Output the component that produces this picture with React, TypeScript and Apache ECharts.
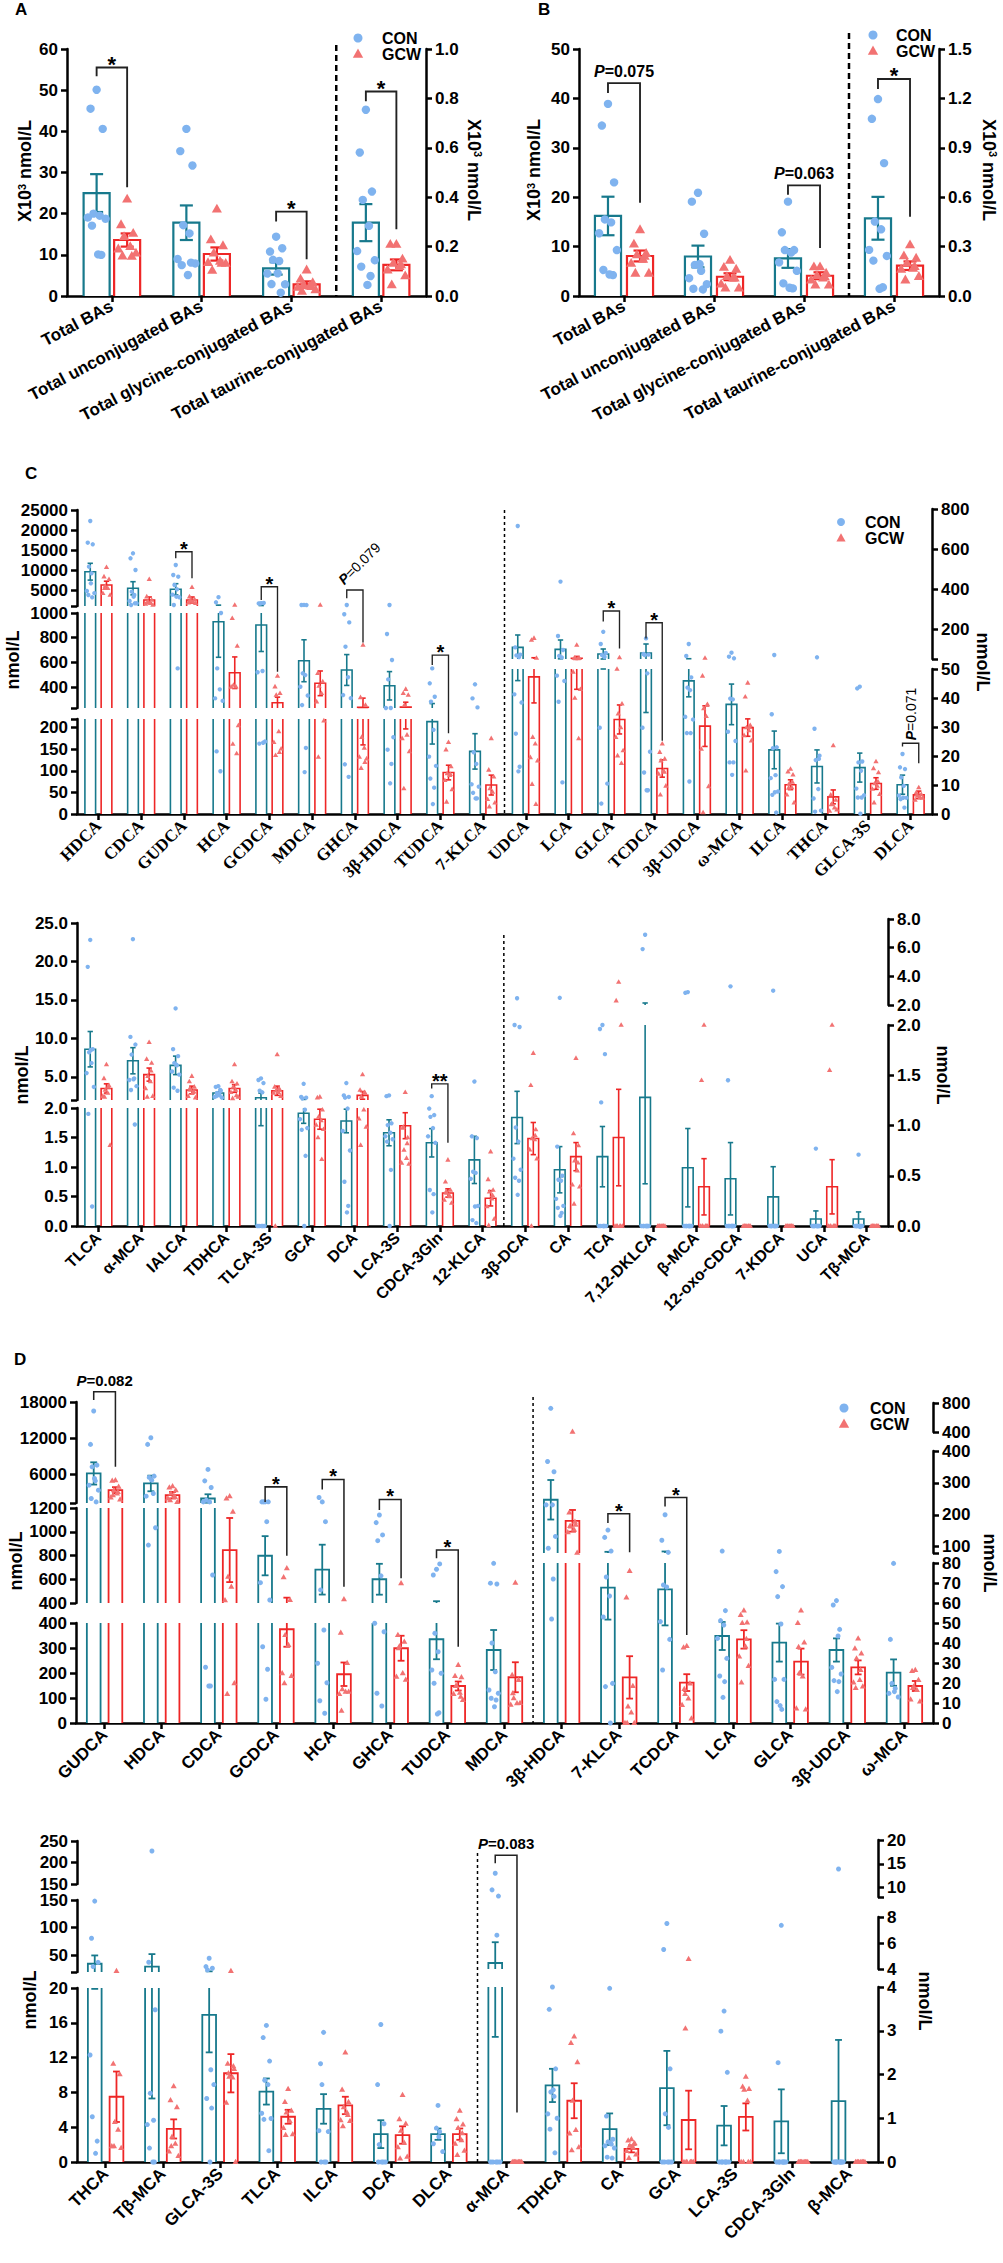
import React, { useEffect, useRef } from 'react';
import * as echarts from 'echarts';

// ===================== DATA =====================
// ---- Panel A ----
const A_CATEGORIES = ['Total BAs', 'Total unconjugated BAs', 'Total glycine-conjugated BAs', 'Total taurine-conjugated BAs'];
const A_CON_MEAN = [25.0, 17.8, 6.7, 0.297];
const A_CON_SEM = [4.6, 4.2, 1.5, 0.075];
const A_GCW_MEAN = [13.6, 10.2, 2.8, 0.126];
const A_GCW_SEM = [1.6, 1.6, 0.75, 0.022];
const A_CON_POINTS = [
  [50.1, 45.5, 40.6, 20.0, 19.5, 19.3, 19.0, 17.1, 10.0, 10.1],
  [40.6, 35.2, 31.7, 17.2, 15.2, 9.2, 7.9, 7.5, 8.1, 5.1],
  [14.4, 10.8, 11.6, 8.8, 8.5, 5.7, 3.1, 2.9, 0.8, 5.5],
  [0.754, 0.581, 0.423, 0.389, 0.284, 0.186, 0.149, 0.119, 0.081, 0.045],
];
const A_GCW_POINTS = [
  [23.5, 17.3, 15.2, 14.4, 12.0, 11.4, 10.4, 9.7, 9.6],
  [21.1, 13.6, 12.2, 10.4, 8.4, 8.1, 7.9, 6.2, 7.9],
  [6.3, 4.1, 3.2, 2.7, 2.4, 2.1, 1.5, 1.1, 2.3],
  [0.209, 0.209, 0.149, 0.132, 0.119, 0.105, 0.081, 0.045, 0.126],
];
const A_BRACKETS = [
  { cat: 0, top: 55.5, l: 53.4, r: 26.4, label: '*' },
  { cat: 2, top: 20.5, l: 18.1, r: 8.9, label: '*' },
  { cat: 3, top: 0.828, l: 0.788, r: 0.27, label: '*' },
];

// ---- Panel B ----
const B_CATEGORIES = A_CATEGORIES;
const B_CON_MEAN = [16.2, 8.0, 7.6, 0.472];
const B_CON_SEM = [3.9, 2.2, 1.9, 0.13];
const B_GCW_MEAN = [8.1, 3.9, 4.1, 0.184];
const B_GCW_SEM = [1.1, 0.7, 0.7, 0.026];
const B_CON_POINTS = [
  [38.9, 34.5, 23.0, 15.5, 14.9, 12.7, 9.3, 5.4, 4.5, 4.5],
  [20.9, 19.1, 12.6, 6.3, 5.1, 3.6, 2.4, 1.6, 1.6, 6.6],
  [19.1, 12.9, 9.3, 9.3, 8.8, 6.8, 5.1, 2.7, 1.8, 1.8],
  [1.196, 1.076, 0.807, 0.452, 0.405, 0.28, 0.243, 0.219, 0.061, 0.047],
];
const B_GCW_POINTS = [
  [13.4, 10.5, 8.6, 8.3, 7.4, 6.6, 4.6, 4.6, 8.0],
  [7.2, 5.8, 5.4, 3.9, 3.6, 2.4, 1.6, 1.6, 3.6],
  [5.9, 5.9, 4.6, 4.1, 3.6, 3.2, 2.2, 2.2, 3.9],
  [0.31, 0.243, 0.229, 0.199, 0.168, 0.162, 0.118, 0.097, 0.178],
];
const B_BRACKETS = [
  { cat: 0, top: 43.1, l: 41.1, r: 18.9, label: 'P=0.075' },
  { cat: 2, top: 22.4, l: 20.5, r: 9.7, label: 'P=0.063' },
  { cat: 3, top: 1.318, l: 1.257, r: 0.482, label: '*' },
];

// ---- Panel C (upper) ----
const C1_CATEGORIES = ['HDCA', 'CDCA', 'GUDCA', 'HCA', 'GCDCA', 'MDCA', 'GHCA', '3β-HDCA', 'TUDCA', '7-KLCA',
  'UDCA', 'LCA', 'GLCA', 'TCDCA', '3β-UDCA', 'ω-MCA', 'ILCA', 'THCA', 'GLCA-3S', 'DLCA'];
const C1_CON_MEAN = [9575, 5425, 5175, 929, 903, 613, 538, 410, 214, 145, 108, 98, 75, 80, 45.9, 37.8, 22.1, 16.4, 16, 10.1];
const C1_CON_SEM = [2100, 1650, 1400, 288, 215, 170, 125, 115, 52, 41, 62, 47, 25, 45, 5.5, 7, 6.5, 5.7, 5, 3.3];
const C1_GCW_MEAN = [6250, 2500, 2500, 516, 273, 430, 235, 237, 96, 67, 47.3, 53, 32.6, 15.7, 30.3, 29.8, 10.1, 5.9, 10.5, 6.6];
const C1_GCW_SEM = [950, 750, 750, 128, 45, 100, 75, 40, 17, 23, 9, 10, 5, 3, 7, 3, 1.7, 2.4, 2, 1.3];
const C1_CON_POINTS = [
  [22250, 16825, 16425, 10825, 9175, 5000, 4575, 3750, 3175, 6675],
  [14175, 12925, 10000, 4575, 3750, 2500, 1675, 1250, 1675, 3325],
  [11250, 8750, 8325, 6250, 5175, 4175, 3175, 1250, 551, 3325],
  [3200, 1925, 1000, 551, 381, 316, 300, 145, 99],
  [1700, 1650, 1750, 1600, 530, 520, 170, 163, 165],
  [1270, 1250, 1230, 511, 497, 402, 335, 254, 153, 97],
  [1250, 990, 924, 727, 479, 335, 321, 115, 86],
  [1250, 830, 619, 462, 230, 230, 180, 149, 116, 71],
  [551, 430, 321, 281, 195, 136, 113, 82, 61, 23],
  [422, 308, 235, 143, 116, 71, 65, 49, 36, 36],
  [715, 108, 72, 68, 60, 41.6, 38.7, 27.7, 16.3, 14.7],
  [437, 165, 95, 65, 58, 47.9, 46.2, 38.7, 10.9],
  [186, 125, 80, 70, 60, 30, 10.9, 3.6],
  [153, 75, 72, 70, 48.5, 30, 21.9, 14.3, 8.2, 8.2],
  [125, 65, 47.1, 43.6, 42.7, 33.7, 33.1, 27.9, 27.9, 11.2],
  [81.5, 61.5, 53.5, 39.8, 39.5, 28.6, 25.6, 17.8, 17.8, 13.5],
  [70, 34.4, 23, 22.7, 13.4, 12.6, 8, 6.6, 0.5, 7.5],
  [58.5, 29.4, 20.1, 18.6, 8.6, 5.7, 1.6, 0.8, 19],
  [43.9, 43.3, 18.1, 17.8, 14.9, 9.1, 7, 5.7, 5.7, 0.1],
  [20.7, 16.1, 15.5, 12.6, 9.7, 6.6, 5.9, 5.1, 2.2, 5.6],
];
const C1_GCW_POINTS = [
  [10675, 8325, 7675, 6000, 5425, 4175, 3750, 5425],
  [7675, 3325, 2500, 2075, 1675, 1500, 1250, 1825],
  [5675, 3325, 2675, 2325, 2075, 1825, 1675, 2325],
  [1250, 957, 732, 416, 402, 401, 205, 162, 140],
  [489, 403, 349, 335, 191, 166, 151, 136, 143],
  [1250, 511, 443, 408, 349, 281, 216, 132],
  [740, 316, 254, 178, 153, 132, 128, 106, 120],
  [383, 349, 335, 254, 183, 175, 145, 59],
  [166, 149, 110, 94, 90, 78, 57, 28, 92],
  [175, 102, 86, 59, 51, 34, 26, 17],
  [154, 145, 55, 26.5, 24.2, 19.5, 18.4, 10.3, 3.4],
  [120, 55, 54, 53, 52, 49, 43, 40, 26],
  [57, 50, 38, 34.6, 29.8, 26.5, 21.9, 20.1, 17.5],
  [24.2, 21.3, 19, 18.4, 14.9, 13.8, 9.7, 6.6, 14.5],
  [55, 47.6, 37.8, 36.4, 33.7, 22.4, 9.5, 0.5, 37.5],
  [45.2, 40.4, 30.6, 29.8, 28.8, 27.1, 25.3, 14.9, 30],
  [15.5, 14.6, 13.5, 10.5, 9.1, 6.6, 3.9, 9, 11],
  [23.6, 6.6, 4.8, 3.4, 2.2, 1, 1.5, 3.3],
  [18.1, 15.7, 14.3, 10.5, 9.7, 8.6, 6.8, 3.9, 11.2],
  [9.1, 7.4, 6.8, 6.2, 5.7, 4.8, 5.5, 6.6],
];
const C1_BRACKETS = [
  { cat: 2, top: 14575, l: 12925, r: 7925, label: '*' },
  { cat: 4, top: 5825, l: 2500, r: 524, label: '*' },
  { cat: 6, top: 5000, l: 2925, r: 760, label: 'P=0.079', rot: 45 },
  { cat: 8, top: 659, l: 578, r: 187, label: '*' },
  { cat: 12, top: 290, l: 237, r: 103, label: '*' },
  { cat: 13, top: 231, l: 153, r: 25.3, label: '*' },
  { cat: 19, top: 24.4, l: 23.3, r: 17.5, label: 'P=0.071', rot: 90 },
];

// ---- Panel C (lower) ----
const C2_CATEGORIES = ['TLCA', 'α-MCA', 'IALCA', 'TDHCA', 'TLCA-3S', 'GCA', 'DCA', 'LCA-3S', 'CDCA-3Gln', '12-KLCA',
  '3β-DCA', 'CA', 'TCA', '7,12-DKLCA', 'β-MCA', '12-oxo-CDCA', '7-KDCA', 'UCA', 'Tβ-MCA'];
const C2_CON_MEAN = [8.6, 7.1, 6.5, 2.9, 2.3, 1.91, 1.78, 1.58, 1.41, 1.12, 1.08, 0.56, 0.69, 1.28, 0.58, 0.47, 0.29, 0.07, 0.07];
const C2_CON_SEM = [2.3, 1.7, 1.2, 0.15, 0.6, 0.17, 0.2, 0.22, 0.24, 0.4, 0.26, 0.23, 0.3, 0.86, 0.39, 0.36, 0.3, 0.08, 0.07];
const C2_GCW_MEAN = [3.5, 5.3, 3.3, 3.5, 3.2, 1.81, 2.6, 1.7, 0.56, 0.47, 0.87, 0.69, 0.88, 0, 0.39, 0, 0, 0.39, 0];
const C2_GCW_SEM = [0.6, 0.85, 0.5, 0.5, 0.6, 0.17, 0.5, 0.22, 0.07, 0.13, 0.16, 0.14, 0.48, 0, 0.28, 0, 0, 0.27, 0];
const C2_CON_POINTS = [
  [22.8, 19.3, 8.6, 8.3, 6.8, 5.5, 3.7, 1.9, 0.33, 8.5],
  [22.9, 10.2, 9.2, 7.9, 4.8, 4.6, 3.8, 3.3, 1.72, 4.7],
  [13.9, 8.6, 7.7, 6.8, 6.5, 5.7, 5.3, 3.6, 3.2, 6.6],
  [3.8, 3.7, 3.2, 2.9, 2.6, 2.4, 2.3, 2.5, 3.3, 2.8],
  [4.8, 4.6, 4.2, 3.2, 3.0, 0, 0, 0, 0, 0],
  [4.1, 2.4, 2.3, 2.2, 1.97, 1.81, 1.66, 1.63, 1.19, 0],
  [4.2, 2.6, 2.4, 2.3, 1.99, 1.61, 1.28, 0.75, 0.34, 0.23],
  [2.6, 2.5, 1.74, 1.71, 1.58, 1.52, 1.47, 1.43, 0.95, 0],
  [2.5, 1.99, 1.88, 1.85, 1.66, 1.52, 1.41, 0.61, 0.54, 0.23],
  [4.4, 1.52, 1.49, 0.92, 0.9, 0.8, 0.34, 0.1, 0.05, 0.33],
  [2.47, 2.0, 1.98, 0.98, 0.84, 0.67, 0.56, 0.48, 0.45, 0.31],
  [2.5, 0.79, 0.5, 0.46, 0.45, 0.27, 0.2, 0.18, 0.13, 0.1],
  [2.0, 1.96, 1.71, 1.23, 0, 0, 0, 0, 0, 0],
  [6.9, 5.9, 0, 0, 0, 0, 0, 0, 0, 0],
  [2.9, 2.85, 0, 0, 0, 0, 0, 0, 0, 0],
  [3.3, 1.45, 0, 0, 0, 0, 0, 0, 0, 0],
  [3.0, 0, 0, 0, 0, 0, 0, 0, 0, 0],
  [0.77, 0, 0, 0, 0, 0, 0, 0, 0, 0],
  [0.71, 0, 0, 0, 0, 0, 0, 0, 0, 0],
];
const C2_GCW_POINTS = [
  [6.6, 4.8, 3.9, 3.3, 2.9, 2.5, 1.37, 2.4, 3.7],
  [9.5, 7.3, 6.8, 5.1, 4.4, 3.5, 2.5, 2.4, 5.8],
  [5.1, 4.4, 3.7, 3.3, 3.0, 2.5, 2.3, 3.5, 3.1],
  [6.6, 4.4, 4.1, 3.7, 3.3, 3.0, 2.4, 2.2, 2.6],
  [7.9, 3.7, 3.3, 3.2, 3.0, 2.9, 2.5, 0, 3.5],
  [2.4, 2.3, 1.97, 1.85, 1.79, 1.71, 1.64, 1.5, 1.13],
  [5.3, 3.3, 2.9, 2.4, 1.97, 1.82, 1.68, 1.37, 3.0],
  [3.0, 1.66, 1.5, 1.29, 1.15, 1.07, 1.05, 1.68, 1.4],
  [1.12, 0.75, 0.61, 0.56, 0.52, 0.44, 0.39, 0.58, 0.5],
  [1.26, 0.79, 0.61, 0.58, 0.46, 0.33, 0.12, 0.01, 0.52],
  [1.72, 1.4, 0.96, 0.87, 0.86, 0.76, 0.67, 0, 0.9],
  [1.67, 0.92, 0.8, 0.65, 0.55, 0.41, 0.39, 0.22, 0.63],
  [3.6, 2.3, 2.0, 0, 0, 0, 0, 0, 0],
  [0, 0, 0, 0, 0, 0, 0, 0, 0],
  [2.0, 1.45, 0, 0, 0, 0, 0, 0, 0],
  [0, 0, 0, 0, 0, 0, 0, 0, 0],
  [0, 0, 0, 0, 0, 0, 0, 0, 0],
  [2.0, 1.55, 0, 0, 0, 0, 0, 0, 0],
  [0, 0, 0, 0, 0, 0, 0, 0, 0],
];
const C2_BRACKETS = [
  { cat: 8, top: 4.1, l: 3.5, r: 1.41, label: '**' },
];

// ---- Panel D (upper) ----
const D1_CATEGORIES = ['GUDCA', 'HDCA', 'CDCA', 'GCDCA', 'HCA', 'GHCA', 'TUDCA', 'MDCA',
  '3β-HDCA', '7-KLCA', 'TCDCA', 'LCA', 'GLCA', '3β-UDCA', 'ω-MCA'];
const D1_CON_MEAN = [6117, 4450, 1950, 798, 681, 600, 335, 292, 247, 67.7, 66.8, 43.5, 40.2, 36.5, 25.2];
const D1_CON_SEM = [1850, 1300, 700, 165, 210, 130, 80, 80, 62, 16, 18, 7, 9.5, 5.8, 6.6];
const D1_GCW_MEAN = [3333, 2500, 846, 375, 195, 299, 148, 183, 181, 22.8, 20.2, 41.8, 30.7, 27.8, 18.5];
const D1_GCW_SEM = [500, 550, 270, 70, 47, 50, 18, 60, 34, 10.6, 4.2, 4.6, 6.5, 3.5, 2.5];
const D1_CON_POINTS = [
  [16500, 10950, 7500, 7217, 4883, 4167, 3333, 1950, 1383, 5283],
  [12050, 10950, 5667, 5450, 3450, 2333, 1034, 888, 2783, 5000],
  [6783, 4883, 3783, 1667, 1383, 1383, 636, 223, 148, 148],
  [1383, 1383, 1400, 1383, 1085, 571, 425, 305, 215, 95],
  [1383, 2117, 1085, 510, 372, 239, 161, 89, 39],
  [1141, 1077, 973, 925, 629, 399, 365, 119, 68],
  [684, 636, 729, 359, 285, 212, 199, 159, 41, 36],
  [734, 567, 560, 320, 205, 132, 119, 99, 92, 65],
  [727, 367, 335, 244, 231, 231, 132, 95, 72, 52],
  [152, 129, 86, 73, 63.5, 53, 19.8, 18.2, 0],
  [200, 120, 82, 69, 68, 50.7, 41.8, 26.5, 10.2, 5.2],
  [86, 65.2, 56.2, 51.2, 49, 42.3, 32.3, 23.5, 20.7, 12.8],
  [85, 75.7, 68.2, 63.2, 49.5, 21.8, 21.8, 10.7, 6.8, 8.7],
  [61.2, 59, 46.8, 45.2, 43.5, 27.8, 24.5, 21.2, 20.7, 15.7],
  [79.8, 41.8, 25.2, 19.8, 17.3, 14.8, 13, 10.2, 10.2, 15.7],
];
const D1_GCW_POINTS = [
  [5000, 4883, 3883, 3333, 2783, 2117, 1783, 2500, 3050],
  [4000, 3783, 3333, 2783, 2333, 1950, 1383, 1667, 2217],
  [2333, 1950, 1169, 621, 537, 424, 159, 116],
  [692, 617, 425, 352, 312, 199, 188, 159],
  [432, 361, 240, 135, 125, 116, 125, 49],
  [567, 352, 325, 307, 199, 185, 173, 299],
  [232, 188, 183, 148, 121, 116, 92, 148, 105],
  [571, 192, 172, 99, 79, 73, 80, 119],
  [404, 207, 169, 163, 153, 145, 81, 165, 178],
  [76, 62.7, 18.5, 8.2, 5.2, 0, 0, 0],
  [38.5, 37.7, 19.8, 14.5, 12.3, 9, 2.3, 17],
  [56.2, 54, 50.2, 50, 38.2, 33.2, 28.5, 20.2, 42],
  [56.2, 50, 40.2, 25, 23.3, 7.3, 6.8, 38],
  [42.3, 37.3, 34.8, 32.3, 21.5, 20.2, 18.2, 17.5, 26.5],
  [26.5, 26, 21.5, 18.2, 16.5, 11.8, 10.7, 17.5],
];
const D1_BRACKETS = [
  { cat: 0, top: 19700, l: 18333, r: 7217, label: 'P=0.082' },
  { cat: 3, top: 3883, l: 1383, r: 798, label: '*' },
  { cat: 4, top: 5117, l: 3450, r: 537, label: '*' },
  { cat: 5, top: 1783, l: 1183, r: 608, label: '*' },
  { cat: 6, top: 846, l: 776, r: 305, label: '*' },
  { cat: 9, top: 203, l: 174, r: 82, label: '*' },
  { cat: 10, top: 254, l: 226, r: 44, label: '*' },
];

// ---- Panel D (lower) ----
const D2_CATEGORIES = ['THCA', 'Tβ-MCA', 'GLCA-3S', 'TLCA', 'ILCA', 'DCA', 'DLCA',
  'α-MCA', 'TDHCA', 'CA', 'GCA', 'LCA-3S', 'CDCA-3Gln', 'β-MCA'];
const D2_CON_MEAN = [34.9, 29.8, 16.9, 8.1, 6.1, 3.2, 3.2, 4.46, 1.75, 0.75, 1.69, 0.83, 0.93, 1.39];
const D2_CON_SEM = [15, 22.5, 4.3, 1.5, 1.7, 1.6, 0.65, 1.6, 0.38, 0.36, 0.85, 0.45, 0.73, 1.4];
const D2_GCW_MEAN = [7.5, 3.8, 10.2, 5.2, 6.5, 3.1, 3.2, 0, 1.4, 0.3, 0.96, 1.03, 0, 0];
const D2_GCW_SEM = [2.9, 1.1, 2.2, 0.8, 1.0, 1.0, 0.65, 0, 0.4, 0.08, 0.67, 0.31, 0, 0];
const D2_CON_POINTS = [
  [148, 80.9, 38.8, 29.8, 13, 12.3, 10.1, 5.2, 2.4, 1],
  [226.7, 37.6, 17.5, 7.9, 4.8, 4.3, 2.8, 1.6, 0, 0],
  [44.8, 29.8, 26.7, 23.7, 10.6, 10.7, 8.9, 7.3, 6.2, 0],
  [15.7, 14.3, 11.6, 9.4, 8.9, 5.6, 5, 4.9, 1.3, 5.3],
  [14.9, 11.4, 10.9, 8.9, 8.2, 3.6, 3.5, 0, 0, 0],
  [15.8, 8.9, 4.4, 2, 0.9, 0.5, 0, 0, 0, 0],
  [6.5, 5.7, 5.3, 3.9, 3.5, 2.1, 1.2, 0.7, 0.5, 2.9],
  [13, 9.5, 8.2, 6.8, 6.6, 0, 0, 0, 0, 0],
  [4.0, 3.49, 2.13, 1.6, 1.5, 1.1, 1.0, 0.75, 0.21, 1.65],
  [3.97, 1.05, 0.52, 0.46, 0.41, 0.37, 0.32, 0.11, 0.09, 0.43],
  [7.5, 5.5, 2.13, 1.1, 0.79, 0, 0, 0, 0, 0],
  [3.45, 2.99, 2.05, 0, 0, 0, 0, 0, 0, 0],
  [7.36, 2.27, 0, 0, 0, 0, 0, 0, 0, 0],
  [13.9, 0, 0, 0, 0, 0, 0, 0, 0, 0],
];
const D2_GCW_POINTS = [
  [22, 11.3, 10.1, 4.6, 3.7, 1.8, 1.6, 1.8],
  [8.7, 7.1, 6.3, 2.9, 2.1, 1.2, 0.7, 1.8],
  [21.6, 11.3, 10.7, 9.8, 9.7, 6.8, 0, 10.2, 11],
  [8.4, 6.9, 5.9, 5.7, 4.7, 3.9, 3.2, 3.1],
  [12.6, 8.3, 6.9, 6.3, 5.7, 4.8, 4.7, 4.1, 5.4],
  [7.7, 4.9, 4.4, 3.6, 2.2, 1.7, 0.6, 0.4],
  [5.9, 4.9, 4.3, 3.9, 2.5, 2.1, 1.3, 0.8, 3.3],
  [0, 0, 0, 0, 0, 0, 0, 0, 0],
  [2.87, 2.72, 2.28, 1.4, 0.73, 0.65, 0.34, 0.27],
  [0.52, 0.49, 0.43, 0.37, 0.33, 0.25, 0.17, 0.09, 0.41],
  [4.77, 3.05, 0, 0, 0, 0, 0, 0, 0],
  [1.95, 1.72, 1.67, 1.65, 1.4, 0, 0, 0, 0],
  [0, 0, 0, 0, 0, 0, 0, 0, 0],
  [0, 0, 0, 0, 0, 0, 0, 0, 0],
];
const D2_BRACKETS = [
  { cat: 7, top: 16.8, l: 15.1, r: 1.13, label: 'P=0.083' },
];

const LEGEND_NAMES = ['CON', 'GCW'];

// ===================== STYLE / LAYOUT =====================
const SANS = '"Liberation Sans", Arial, sans-serif';
const SERIF = '"Liberation Serif", "Times New Roman", serif';
const CON_LINE = '#17798C';
const GCW_LINE = '#EE2626';
const CON_PT = '#7FB3EF';
const GCW_PT = '#F27272';
const JIT = [0, -0.55, 0.55, -0.28, 0.28, -0.8, 0.8, -0.42, 0.42, 0.14, -0.14, 0.68];

const PANELS: any[] = [
  {
    cats: A_CATEGORIES, nLeft: 3, conMean: A_CON_MEAN, conSem: A_CON_SEM, gcwMean: A_GCW_MEAN, gcwSem: A_GCW_SEM,
    conPts: A_CON_POINTS, gcwPts: A_GCW_POINTS, brackets: A_BRACKETS,
    x0: 67, x1: 426,
    leftSegs: [{ min: 0, max: 60, top: 49, bottom: 296, labels: [0, 10, 20, 30, 40, 50, 60], dec: 0 }],
    rightSegs: [{ min: 0, max: 1, top: 49, bottom: 296, labels: [0, 0.2, 0.4, 0.6, 0.8, 1.0], dec: 1 }],
    off: 0.17, bw: 0.29, r: 4.2, lw: 2.2, rot: 28, xFont: SANS, xSize: 17, ySize: 17,
    dividerTop: 45, dashW: 2.5, dash: [6, 4], starSize: 22, pSize: 16,
    legend: { x: 358, y: 38, tx: 382, r: 4.5 }, letter: { t: 'A', x: 15, y: 9 },
    names: [{ t: 'X10{sup|3} nmol/L', x: 25, y: 171, rot: 90 }, { t: 'X10{sup|3} nmol/L', x: 474, y: 170, rot: -90 }],
  },
  {
    cats: B_CATEGORIES, nLeft: 3, conMean: B_CON_MEAN, conSem: B_CON_SEM, gcwMean: B_GCW_MEAN, gcwSem: B_GCW_SEM,
    conPts: B_CON_POINTS, gcwPts: B_GCW_POINTS, brackets: B_BRACKETS,
    x0: 579, x1: 939,
    leftSegs: [{ min: 0, max: 50, top: 49, bottom: 296, labels: [0, 10, 20, 30, 40, 50], dec: 0 }],
    rightSegs: [{ min: 0, max: 1.5, top: 49, bottom: 296, labels: [0, 0.3, 0.6, 0.9, 1.2, 1.5], dec: 1 }],
    off: 0.178, bw: 0.29, r: 4.2, lw: 2.2, rot: 28, xFont: SANS, xSize: 17, ySize: 17,
    dividerTop: 33, dashW: 2.5, dash: [6, 4], starSize: 22, pSize: 16,
    legend: { x: 873, y: 35, tx: 896, r: 4.5 }, letter: { t: 'B', x: 538, y: 9 },
    names: [{ t: 'X10{sup|3} nmol/L', x: 534, y: 170, rot: 90 }, { t: 'X10{sup|3} nmol/L', x: 989, y: 170, rot: -90 }],
  },
  {
    cats: C1_CATEGORIES, nLeft: 10, conMean: C1_CON_MEAN, conSem: C1_CON_SEM, gcwMean: C1_GCW_MEAN, gcwSem: C1_GCW_SEM,
    conPts: C1_CON_POINTS, gcwPts: C1_GCW_POINTS, brackets: C1_BRACKETS,
    x0: 77, x1: 932,
    leftSegs: [
      { min: 0, max: 220, top: 719, bottom: 814, labels: [0, 50, 100, 150, 200], dec: 0 },
      { min: 230, max: 1000, top: 613, bottom: 708, labels: [400, 600, 800, 1000], dec: 0 },
      { min: 1000, max: 25000, top: 510, bottom: 606, labels: [5000, 10000, 15000, 20000, 25000], dec: 0 },
    ],
    rightSegs: [
      { min: 0, max: 50, top: 669, bottom: 814, labels: [0, 10, 20, 30, 40, 50], dec: 0 },
      { min: 50, max: 800, top: 509, bottom: 659, labels: [200, 400, 600, 800], dec: 0 },
    ],
    off: 0.19, bw: 0.25, r: 2.2, lw: 1.6, rot: 45, xFont: SERIF, xSize: 17, ySize: 17,
    dividerTop: 510, dashW: 1.5, dash: [3, 3], starSize: 20, pSize: 14,
    legend: { x: 841, y: 522, tx: 865, r: 4 }, letter: { t: 'C', x: 25, y: 473 },
    names: [{ t: 'nmol/L', x: 13, y: 660, rot: 90 }, { t: 'nmol/L', x: 983, y: 662, rot: -90 }],
  },
  {
    cats: C2_CATEGORIES, nLeft: 10, conMean: C2_CON_MEAN, conSem: C2_CON_SEM, gcwMean: C2_GCW_MEAN, gcwSem: C2_GCW_SEM,
    conPts: C2_CON_POINTS, gcwPts: C2_GCW_POINTS, brackets: C2_BRACKETS,
    x0: 77, x1: 888,
    leftSegs: [
      { min: 0, max: 2, top: 1108, bottom: 1226, labels: [0, 0.5, 1, 1.5, 2], dec: 1 },
      { min: 2, max: 25, top: 923, bottom: 1100, labels: [5, 10, 15, 20, 25], dec: 1 },
    ],
    rightSegs: [
      { min: 0, max: 2, top: 1025, bottom: 1226, labels: [0, 0.5, 1, 1.5, 2], dec: 1 },
      { min: 2, max: 8, top: 919, bottom: 1005, labels: [2, 4, 6, 8], dec: 1 },
    ],
    off: 0.19, bw: 0.25, r: 2.2, lw: 1.6, rot: 45, xFont: SANS, xSize: 16, ySize: 17,
    dividerTop: 935, dashW: 1.5, dash: [3, 3], starSize: 20, pSize: 14,
    legend: null, letter: null,
    names: [{ t: 'nmol/L', x: 22, y: 1075, rot: 90 }, { t: 'nmol/L', x: 943, y: 1075, rot: -90 }],
  },
  {
    cats: D1_CATEGORIES, nLeft: 8, conMean: D1_CON_MEAN, conSem: D1_CON_SEM, gcwMean: D1_GCW_MEAN, gcwSem: D1_GCW_SEM,
    conPts: D1_CON_POINTS, gcwPts: D1_GCW_POINTS, brackets: D1_BRACKETS,
    x0: 76, x1: 933,
    leftSegs: [
      { min: 0, max: 400, top: 1623, bottom: 1723, labels: [0, 100, 200, 300, 400], dec: 0 },
      { min: 400, max: 1200, top: 1508, bottom: 1603, labels: [400, 600, 800, 1000, 1200], dec: 0 },
      { min: 1200, max: 18000, top: 1402, bottom: 1503, labels: [6000, 12000, 18000], dec: 0 },
    ],
    rightSegs: [
      { min: 0, max: 80, top: 1563, bottom: 1723, labels: [0, 10, 20, 30, 40, 50, 60, 70, 80], dec: 0 },
      { min: 80, max: 400, top: 1451, bottom: 1553, labels: [100, 200, 300, 400], dec: 0 },
      { min: 400, max: 800, top: 1403, bottom: 1432, labels: [400, 800], dec: 0 },
    ],
    off: 0.19, bw: 0.24, r: 2.5, lw: 1.8, rot: 45, xFont: SANS, xSize: 17, ySize: 17,
    dividerTop: 1397, dashW: 1.5, dash: [3, 3], starSize: 20, pSize: 15,
    legend: { x: 844, y: 1408, tx: 870, r: 4.5 }, letter: { t: 'D', x: 14, y: 1359 },
    names: [{ t: 'nmol/L', x: 16, y: 1561, rot: 90 }, { t: 'nmol/L', x: 990, y: 1563, rot: -90 }],
  },
  {
    cats: D2_CATEGORIES, nLeft: 7, conMean: D2_CON_MEAN, conSem: D2_CON_SEM, gcwMean: D2_GCW_MEAN, gcwSem: D2_GCW_SEM,
    conPts: D2_CON_POINTS, gcwPts: D2_GCW_POINTS, brackets: D2_BRACKETS,
    x0: 77, x1: 878,
    leftSegs: [
      { min: 0, max: 20, top: 1988, bottom: 2162, labels: [0, 4, 8, 12, 16, 20], dec: 0 },
      { min: 20, max: 150, top: 1900, bottom: 1972, labels: [50, 100, 150], dec: 0 },
      { min: 150, max: 250, top: 1841, bottom: 1884, labels: [150, 200, 250], dec: 0 },
    ],
    rightSegs: [
      { min: 0, max: 4, top: 1987, bottom: 2162, labels: [0, 1, 2, 3, 4], dec: 0 },
      { min: 4, max: 8, top: 1917, bottom: 1969, labels: [4, 6, 8], dec: 0 },
      { min: 8, max: 20, top: 1840, bottom: 1897, labels: [10, 15, 20], dec: 0 },
    ],
    off: 0.19, bw: 0.24, r: 2.5, lw: 1.8, rot: 45, xFont: SANS, xSize: 17, ySize: 17,
    dividerTop: 1853, dashW: 1.5, dash: [3, 3], starSize: 20, pSize: 15,
    legend: null, letter: null,
    names: [{ t: 'nmol/L', x: 30, y: 2000, rot: 90 }, { t: 'nmol/L', x: 925, y: 2001, rot: -90 }],
  },
];

// ===================== HELPERS =====================
function segIndexFor(segs: any[], v: number) {
  for (let i = 0; i < segs.length; i++) if (v >= segs[i].min && v <= segs[i].max) return i;
  if (v > segs[segs.length - 1].max) return segs.length - 1;
  let best = 0, bd = Infinity;
  segs.forEach((s: any, i: number) => {
    const d = v < s.min ? s.min - v : v - s.max;
    if (d < bd) { bd = d; best = i; }
  });
  return best;
}

function fmt(v: number, dec: number) {
  return dec > 0 ? Number(v).toFixed(dec) : String(Math.round(v));
}

function barsRender(p: any) {
  return (params: any, api: any) => {
    const cat = api.value(0), mean = api.value(1), sem = api.value(2), g = api.value(3);
    const cs = params.coordSys;
    const top = cs.y, bot = cs.y + cs.height;
    const band = api.size([1, 0])[0];
    const cx = api.coord([cat, 0])[0] + (g === 0 ? -1 : 1) * band * p.off;
    const hw = (band * p.bw) / 2;
    const color = g === 0 ? CON_LINE : GCW_LINE;
    const st = { stroke: color, lineWidth: p.lw, fill: null };
    const clampY = (y: number) => Math.max(top, Math.min(bot, y));
    const ch: any[] = [];
    const ym = api.coord([cat, mean])[1];
    if (mean > 0 && ym < bot - 0.5) {
      const yt = clampY(ym);
      ch.push({ type: 'rect', shape: { x: cx - hw, y: yt, width: 2 * hw, height: bot - yt }, style: { fill: '#ffffff' } });
      if (ym >= top) {
        ch.push({ type: 'polyline', shape: { points: [[cx - hw, bot], [cx - hw, yt], [cx + hw, yt], [cx + hw, bot]] }, style: st });
      } else {
        ch.push({ type: 'line', shape: { x1: cx - hw, y1: bot, x2: cx - hw, y2: top }, style: st });
        ch.push({ type: 'line', shape: { x1: cx + hw, y1: bot, x2: cx + hw, y2: top }, style: st });
      }
    }
    if (sem > 0) {
      const yh = api.coord([cat, mean + sem])[1];
      const lowV = Math.max(0, mean - sem);
      const yl = api.coord([cat, lowV])[1];
      const a = clampY(yh), b = clampY(yl);
      if (b - a > 0.5) ch.push({ type: 'line', shape: { x1: cx, y1: a, x2: cx, y2: b }, style: st });
      const cw = hw * 0.5;
      if (yh >= top && yh <= bot) ch.push({ type: 'line', shape: { x1: cx - cw, y1: yh, x2: cx + cw, y2: yh }, style: st });
      if (mean - sem > 0 && yl >= top && yl <= bot) ch.push({ type: 'line', shape: { x1: cx - cw, y1: yl, x2: cx + cw, y2: yl }, style: st });
    }
    return { type: 'group', children: ch };
  };
}

function ptsRender(p: any, g: number) {
  return (params: any, api: any) => {
    const cat = api.value(0), v = api.value(1), j = api.value(2);
    const band = api.size([1, 0])[0];
    const cx = api.coord([cat, 0])[0] + (g === 0 ? -1 : 1) * band * p.off + JIT[j % JIT.length] * band * p.bw * 0.5 * 0.85;
    const y = api.coord([cat, v])[1];
    const r = p.r;
    if (g === 0) return { type: 'circle', shape: { cx, cy: y, r }, style: { fill: CON_PT } };
    return {
      type: 'polygon',
      shape: { points: [[cx, y - r * 1.3], [cx - r * 1.2, y + r * 0.8], [cx + r * 1.2, y + r * 0.8]] },
      style: { fill: GCW_PT },
    };
  };
}

function buildOption(panels: any[]) {
  const grid: any[] = [], xAxis: any[] = [], yAxis: any[] = [], series: any[] = [];
  const refs: any[] = [];
  const axisLineStyle = { color: '#000', width: 2.5 };
  panels.forEach((p) => {
    const r: any = { left: [], right: [] };
    (['left', 'right'] as const).forEach((side) => {
      const segs = side === 'left' ? p.leftSegs : p.rightSegs;
      const catIdx = p.cats.map((_: any, i: number) => i).filter((i: number) => (side === 'left' ? i < p.nLeft : i >= p.nLeft));
      segs.forEach((s: any, si: number) => {
        const ai = grid.length;
        r[side].push(ai);
        grid.push({ left: p.x0, top: s.top, width: p.x1 - p.x0, height: s.bottom - s.top });
        const showX = side === 'left' && si === 0;
        xAxis.push({
          type: 'category', gridIndex: ai, data: p.cats, show: showX, boundaryGap: true,
          axisLine: { show: true, onZero: false, lineStyle: axisLineStyle },
          axisTick: { show: true, alignWithLabel: true, length: 6, lineStyle: axisLineStyle },
          axisLabel: { interval: 0, rotate: p.rot, fontFamily: p.xFont, fontWeight: 'bold', fontSize: p.xSize, color: '#000', margin: 9 },
          splitLine: { show: false },
        });
        const tickVals = Array.from(new Set([s.min, ...s.labels, s.max]));
        yAxis.push({
          type: 'value', gridIndex: ai, min: s.min, max: s.max, position: side,
          axisLine: { show: true, onZero: false, lineStyle: axisLineStyle },
          axisTick: { show: true, length: 6, lineStyle: axisLineStyle, customValues: tickVals },
          axisLabel: {
            show: true, customValues: s.labels, formatter: (v: number) => fmt(v, s.dec),
            fontFamily: SANS, fontWeight: 'bold', fontSize: p.ySize, color: '#000', margin: 9,
          },
          splitLine: { show: false },
        });
        const barData: any[] = [];
        catIdx.forEach((c: number) => {
          barData.push([c, p.conMean[c], p.conSem[c], 0]);
          barData.push([c, p.gcwMean[c], p.gcwSem[c], 1]);
        });
        series.push({
          type: 'custom', name: 'bars', xAxisIndex: ai, yAxisIndex: ai, data: barData,
          renderItem: barsRender(p), z: 2, silent: true, clip: false,
        });
        [0, 1].forEach((g) => {
          const pts = g === 0 ? p.conPts : p.gcwPts;
          const d: any[] = [];
          catIdx.forEach((c: number) => {
            pts[c].forEach((v: number, j: number) => {
              if (segIndexFor(segs, v) === si) d.push([c, Math.min(s.max, Math.max(s.min, v)), j]);
            });
          });
          series.push({
            type: 'custom', name: LEGEND_NAMES[g], xAxisIndex: ai, yAxisIndex: ai, data: d,
            renderItem: ptsRender(p, g), z: 3, silent: true, clip: false,
            itemStyle: { color: g === 0 ? CON_PT : GCW_PT },
          });
        });
      });
    });
    refs.push(r);
  });
  return {
    option: { animation: false, textStyle: { fontFamily: SANS }, grid, xAxis, yAxis, series },
    refs,
  };
}

function buildGraphics(chart: any, panels: any[], refs: any[]) {
  const els: any[] = [];
  panels.forEach((p, pi) => {
    const r = refs[pi];
    const px = (cat: number, v: number) => {
      const side = cat < p.nLeft ? 'left' : 'right';
      const segs = side === 'left' ? p.leftSegs : p.rightSegs;
      const si = segIndexFor(segs, v);
      const ai = r[side][si];
      return chart.convertToPixel({ xAxisIndex: ai, yAxisIndex: ai }, [cat, v]);
    };
    const band = px(1, 0)[0] - px(0, 0)[0];
    // divider
    const xd = (px(p.nLeft - 1, 0)[0] + px(p.nLeft, 0)[0]) / 2;
    const yb = px(0, 0)[1];
    els.push({ type: 'line', z: 50, shape: { x1: xd, y1: p.dividerTop, x2: xd, y2: yb }, style: { stroke: '#000', lineWidth: p.dashW, lineDash: p.dash } });
    // brackets
    p.brackets.forEach((b: any) => {
      const cx = px(b.cat, 0)[0];
      const xl = cx - band * p.off, xr = cx + band * p.off;
      const yt = px(b.cat, b.top)[1], yl = px(b.cat, b.l)[1], yr = px(b.cat, b.r)[1];
      els.push({ type: 'polyline', z: 50, shape: { points: [[xl, yl], [xl, yt], [xr, yt], [xr, yr]] }, style: { stroke: '#222', lineWidth: p.lw * 0.85, fill: null } });
      const isP = b.label.charAt(0) === 'P';
      const txt = isP ? '{i|P}' + b.label.slice(1) : b.label;
      const size = isP ? p.pSize : p.starSize;
      const style: any = {
        text: txt, fill: '#000', fontFamily: SANS, fontWeight: 'bold', fontSize: size,
        rich: { i: { fontStyle: 'italic', fontWeight: 'bold', fontFamily: SANS, fontSize: size, fill: '#000' } },
      };
      if (b.rot === 45) {
        els.push({ type: 'text', z: 51, x: xl - 1, y: yt - 3, rotation: Math.PI / 4, style: { ...style, align: 'left', verticalAlign: 'bottom', fontWeight: 'normal' } });
      } else if (b.rot === 90) {
        els.push({ type: 'text', z: 51, x: (xl + xr) / 2, y: yt - 3, rotation: Math.PI / 2, style: { ...style, align: 'left', verticalAlign: 'middle', fontWeight: 'normal' } });
      } else if (isP) {
        els.push({ type: 'text', z: 51, x: (xl + xr) / 2, y: yt - 4, style: { ...style, align: 'center', verticalAlign: 'bottom' } });
      } else {
        els.push({ type: 'text', z: 51, x: (xl + xr) / 2, y: yt - 3, style: { ...style, align: 'center', verticalAlign: 'middle' } });
      }
    });
    // legend
    if (p.legend) {
      const L = p.legend;
      els.push({ type: 'circle', z: 51, shape: { cx: L.x, cy: L.y, r: L.r }, style: { fill: CON_PT } });
      const ty = L.y + 16;
      els.push({ type: 'polygon', z: 51, shape: { points: [[L.x, ty - L.r * 1.2], [L.x - L.r * 1.15, ty + L.r * 0.85], [L.x + L.r * 1.15, ty + L.r * 0.85]] }, style: { fill: GCW_PT } });
      els.push({ type: 'text', z: 51, x: L.tx, y: L.y, style: { text: LEGEND_NAMES[0], fill: '#000', fontFamily: SANS, fontWeight: 'bold', fontSize: 16, align: 'left', verticalAlign: 'middle' } });
      els.push({ type: 'text', z: 51, x: L.tx, y: ty, style: { text: LEGEND_NAMES[1], fill: '#000', fontFamily: SANS, fontWeight: 'bold', fontSize: 16, align: 'left', verticalAlign: 'middle' } });
    }
    if (p.letter) {
      els.push({ type: 'text', z: 51, x: p.letter.x, y: p.letter.y, style: { text: p.letter.t, fill: '#000', fontFamily: SANS, fontWeight: 'bold', fontSize: 17, align: 'left', verticalAlign: 'middle' } });
    }
    p.names.forEach((n: any) => {
      els.push({
        type: 'text', z: 51, x: n.x, y: n.y, rotation: (n.rot * Math.PI) / 180,
        style: {
          text: n.t, fill: '#000', fontFamily: SANS, fontWeight: 'bold', fontSize: 18, align: 'center', verticalAlign: 'middle',
          rich: { sup: { fontSize: 11, fontWeight: 'bold', fontFamily: SANS, verticalAlign: 'top', fill: '#000' } },
        },
      });
    });
  });
  return els;
}

export default function App() {
  const ref = useRef<HTMLDivElement>(null);
  useEffect(() => {
    if (!ref.current) return;
    const chart = echarts.init(ref.current, null, { renderer: 'svg' });
    const { option, refs } = buildOption(PANELS);
    chart.setOption(option as any);
    chart.setOption({ graphic: { elements: buildGraphics(chart, PANELS, refs) } } as any);
    return () => chart.dispose();
  }, []);
  return <div ref={ref} style={{ position: 'absolute', left: 0, top: 0, width: 1003, height: 2263, background: '#fff' }} />;
}
